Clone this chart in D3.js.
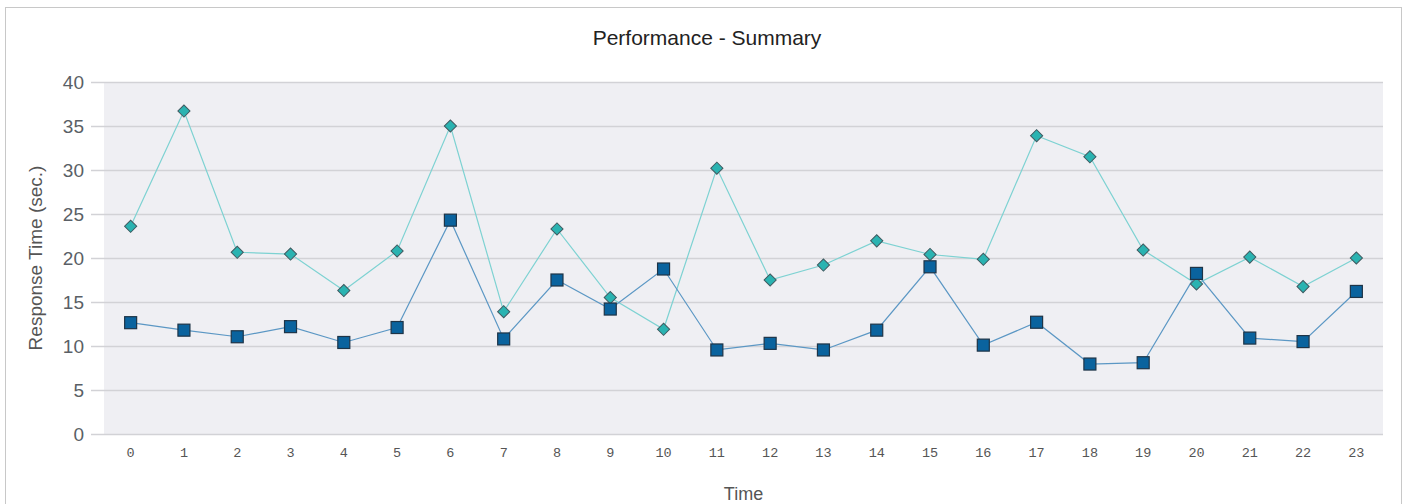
<!DOCTYPE html>
<html><head><meta charset="utf-8">
<script src="https://cdn.jsdelivr.net/npm/d3@7/dist/d3.min.js"></script>
<style>body{margin:0;background:#fff;}svg{display:block;}</style>
</head><body>
<svg id="c" width="1407" height="504"></svg>
<script>
const categories = ["0","1","2","3","4","5","6","7","8","9","10","11","12","13","14","15","16","17","18","19","20","21","22","23"];
const seriesTeal = [23.6,36.7,20.65,20.45,16.3,20.8,35.0,13.9,23.3,15.5,11.9,30.2,17.5,19.2,21.95,20.4,19.85,33.9,31.5,20.9,17.05,20.1,16.75,20.0];
const seriesBlue = [12.65,11.8,11.05,12.2,10.4,12.1,24.3,10.8,17.5,14.2,18.75,9.55,10.3,9.55,11.8,19.0,10.1,12.7,7.95,8.1,18.25,10.9,10.5,16.2];
const yTicks = [0,5,10,15,20,25,30,35,40];
const titleText = "Performance - Summary";
const yTitle = "Response Time (sec.)";
const xTitle = "Time";

const svg = d3.select("#c");
const L = 104, R = 1383, T = 82, B = 434;

svg.append("rect").attr("x",5.5).attr("y",7.5).attr("width",1396).attr("height",510)
  .attr("fill","#fff").attr("stroke","#c8c8c8").attr("stroke-width",1);

svg.append("text").attr("x",707).attr("y",45).attr("text-anchor","middle")
  .attr("font-family","'Liberation Sans',Arial,sans-serif").attr("font-size",21)
  .attr("fill","#222").text(titleText);

const x = d3.scaleBand().domain(categories).range([L,R]).padding(0);
const y = d3.scaleLinear().domain([0,40]).range([B,T]);

svg.append("rect").attr("x",L).attr("y",T).attr("width",R-L).attr("height",B-T).attr("fill","#efeff3");

const yAxis = svg.append("g").attr("transform",`translate(${R},0)`)
  .call(d3.axisLeft(y).tickValues(yTicks).tickSize(R-91).tickPadding(7));
yAxis.select(".domain").remove();
yAxis.selectAll(".tick line").attr("stroke","#d2d2d6").attr("stroke-width",1.3);
yAxis.selectAll(".tick text").attr("font-family","'Liberation Sans',Arial,sans-serif")
  .attr("font-size",19).attr("fill","#5a5f66");

const xAxis = svg.append("g").attr("transform",`translate(0,${B})`)
  .call(d3.axisBottom(x).tickSize(0).tickPadding(13));
xAxis.select(".domain").remove();
xAxis.selectAll(".tick text").attr("font-family","'Liberation Mono','DejaVu Sans Mono',monospace")
  .attr("font-size",13.5).attr("fill","#555");

svg.append("text").attr("transform",`translate(42,${(T+B)/2}) rotate(-90)`).attr("text-anchor","middle")
  .attr("font-family","'Liberation Sans',Arial,sans-serif").attr("font-size",19).attr("fill","#555").text(yTitle);
svg.append("text").attr("x",(L+R)/2).attr("y",500).attr("text-anchor","middle")
  .attr("font-family","'Liberation Sans',Arial,sans-serif").attr("font-size",18).attr("fill","#555").text(xTitle);

const cx = i => x(categories[i]) + x.bandwidth()/2;
const line = d3.line().x((d,i)=>cx(i)).y(d=>y(d));

svg.append("path").datum(seriesTeal).attr("d",line).attr("fill","none").attr("stroke","#7dd2d2").attr("stroke-width",1.2);
svg.append("path").datum(seriesBlue).attr("d",line).attr("fill","none").attr("stroke","#5b97c4").attr("stroke-width",1.2);

svg.append("g").selectAll("path").data(seriesTeal).join("path")
  .attr("transform",(d,i)=>`translate(${cx(i)},${y(d)}) rotate(45)`)
  .attr("d","M-4.3,-4.3H4.3V4.3H-4.3Z")
  .attr("fill","#2ab3b1").attr("stroke","#3f5a60").attr("stroke-width",1);

svg.append("g").selectAll("rect").data(seriesBlue).join("rect")
  .attr("x",(d,i)=>cx(i)-6).attr("y",d=>y(d)-6).attr("width",12).attr("height",12)
  .attr("fill","#0a639e").attr("stroke","#1e3447").attr("stroke-width",1.2);
</script>
</body></html>
